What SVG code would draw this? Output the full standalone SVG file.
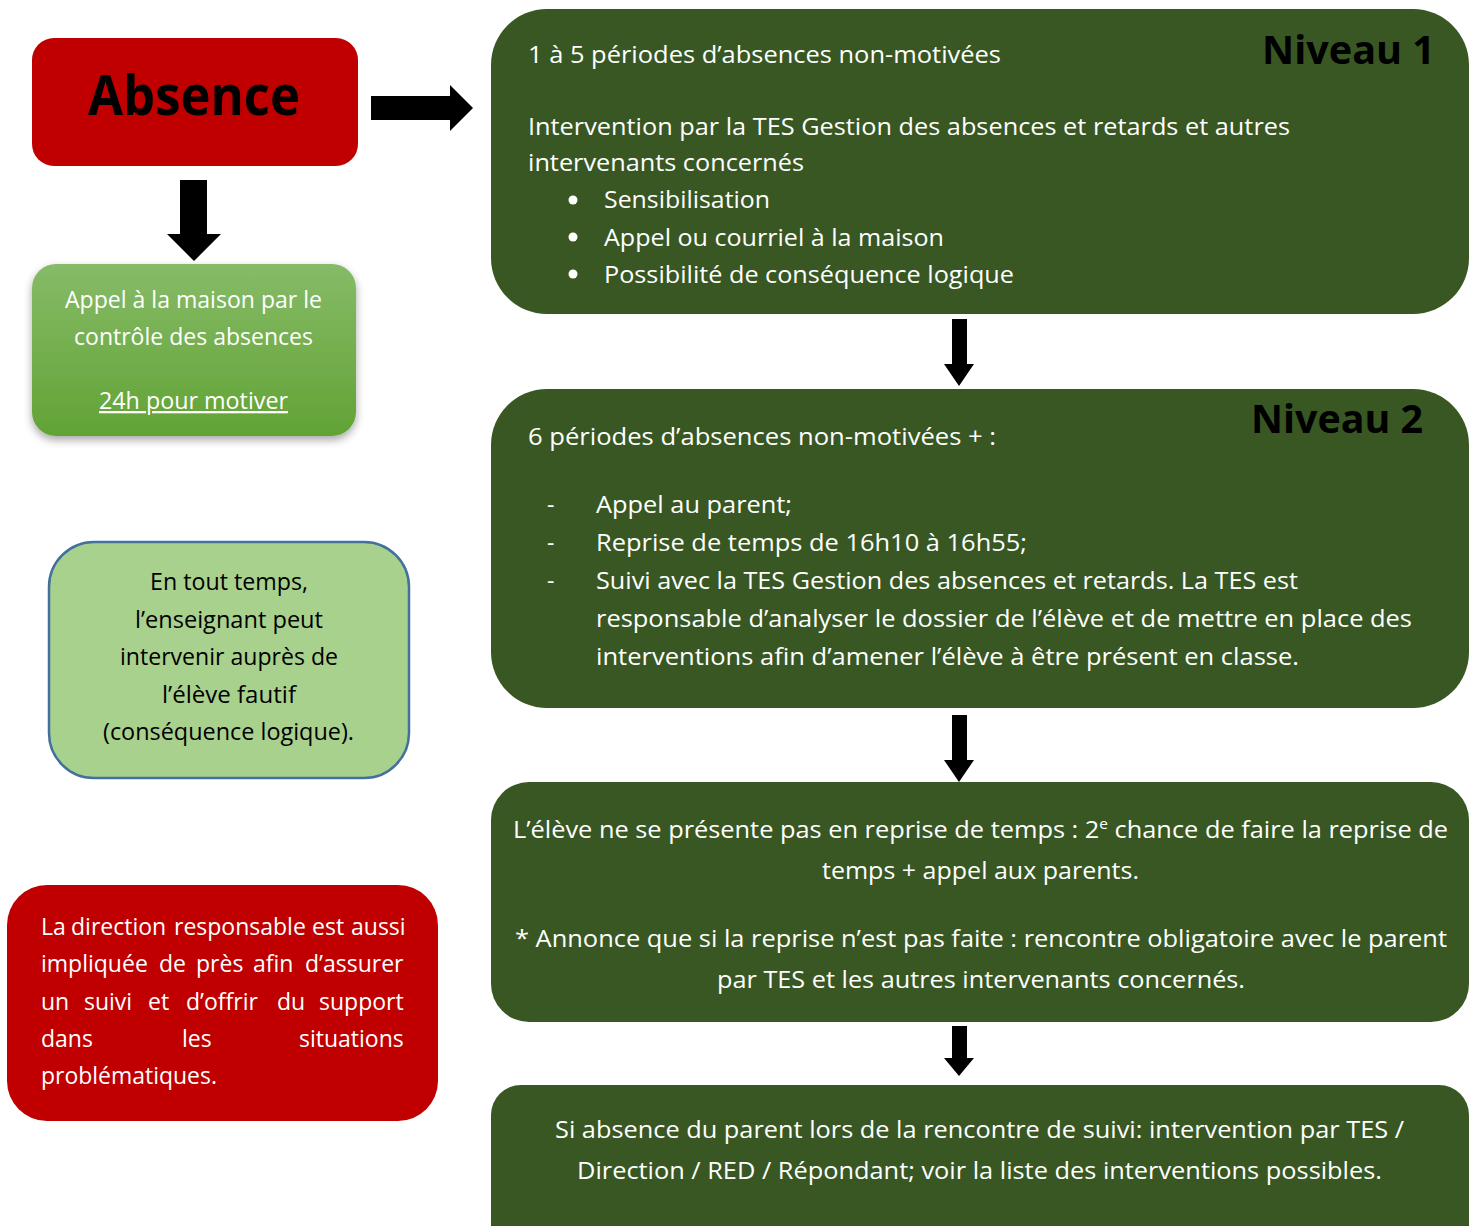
<svg xmlns="http://www.w3.org/2000/svg" width="1473" height="1226" viewBox="0 0 1473 1226">
<defs>
<linearGradient id="gg" x1="0" y1="0" x2="0" y2="1">
<stop offset="0" stop-color="#86BB68"/>
<stop offset="1" stop-color="#62A335"/>
</linearGradient>
<filter id="sh" x="-10%" y="-10%" width="120%" height="130%">
<feDropShadow dx="0" dy="4" stdDeviation="4" flood-color="#000" flood-opacity="0.35"/>
</filter>
</defs>
<style>
text{font-family:"Open Sans","Noto Sans",sans-serif;}
.w{fill:#fff;font-size:23px;}
.b{fill:#000;font-size:23px;}
.nv{fill:#000;font-size:40px;font-weight:bold;}
.dk{fill:#385723;}
.arr{fill:#000;}
</style>
<rect width="1473" height="1226" fill="#fff"/>

<g id="connectors">
<polygon class="arr" points="371,96 450,96 450,85 473,108 450,131 450,120 371,120"/>
<polygon class="arr" points="180,180 207,180 207,234 221,234 194,261 167,234 180,234"/>
<polygon class="arr" points="952,319 967,319 967,364 974,364 959,386 944,364 952,364"/>
<polygon class="arr" points="952,715 967,715 967,760 974,760 959,782 944,760 952,760"/>
<polygon class="arr" points="952,1026 967,1026 967,1058 974,1058 959,1076 944,1058 952,1058"/>
</g>

<g id="absence">
<rect x="32" y="38" width="326" height="128" rx="22" fill="#C00000"/>
<text x="88" y="115" font-size="55" font-weight="bold" fill="#000" textLength="212" lengthAdjust="spacingAndGlyphs">Absence</text>
</g>

<g id="appel">
<rect x="32" y="264" width="324" height="172" rx="24" fill="url(#gg)" filter="url(#sh)"/>
<text class="w" x="65" y="308" textLength="257" lengthAdjust="spacingAndGlyphs">Appel à la maison par le</text>
<text class="w" x="74" y="345" textLength="239" lengthAdjust="spacingAndGlyphs">contrôle des absences</text>
<text class="w" x="99" y="409" textLength="189" lengthAdjust="spacingAndGlyphs" text-decoration="underline">24h pour motiver</text>
</g>

<g id="enseignant">
<rect x="49" y="542" width="360" height="236" rx="45" fill="#A9D18E" stroke="#41719C" stroke-width="2.5"/>
<text class="b" x="150" y="590" textLength="158" lengthAdjust="spacingAndGlyphs">En tout temps,</text>
<text class="b" x="135" y="628" textLength="188" lengthAdjust="spacingAndGlyphs">l’enseignant peut</text>
<text class="b" x="120" y="665" textLength="218" lengthAdjust="spacingAndGlyphs">intervenir auprès de</text>
<text class="b" x="162" y="703" textLength="134" lengthAdjust="spacingAndGlyphs">l’élève fautif</text>
<text class="b" x="103" y="740" textLength="251" lengthAdjust="spacingAndGlyphs">(conséquence logique).</text>
</g>

<g id="direction">
<rect x="7" y="885" width="431" height="236" rx="40" fill="#C00000"/>
<text class="w" y="935"><tspan x="41">La</tspan><tspan x="71">direction</tspan><tspan x="174">responsable</tspan><tspan x="312">est</tspan><tspan x="351">aussi</tspan></text>
<text class="w" y="972"><tspan x="41">impliquée</tspan><tspan x="159">de</tspan><tspan x="196">près</tspan><tspan x="253">afin</tspan><tspan x="305">d’assurer</tspan></text>
<text class="w" y="1010"><tspan x="41">un</tspan><tspan x="84">suivi</tspan><tspan x="148">et</tspan><tspan x="186">d’offrir</tspan><tspan x="277">du</tspan><tspan x="319">support</tspan></text>
<text class="w" y="1047"><tspan x="41">dans</tspan><tspan x="182">les</tspan><tspan x="299">situations</tspan></text>
<text class="w" x="41" y="1084" textLength="176" lengthAdjust="spacingAndGlyphs">problématiques.</text>
</g>

<g id="niveau1">
<rect class="dk" x="491" y="9" width="978" height="305" rx="56"/>
<text class="w" x="528" y="63" textLength="473" lengthAdjust="spacingAndGlyphs">1 à 5 périodes d’absences non-motivées</text>
<text class="nv" x="1262" y="64" textLength="173" lengthAdjust="spacingAndGlyphs">Niveau 1</text>
<text class="w" x="528" y="135" textLength="762" lengthAdjust="spacingAndGlyphs">Intervention par la TES Gestion des absences et retards et autres</text>
<text class="w" x="528" y="171" textLength="276" lengthAdjust="spacingAndGlyphs">intervenants concernés</text>
<circle cx="573" cy="200" r="4.5" fill="#fff"/>
<circle cx="573" cy="237" r="4.5" fill="#fff"/>
<circle cx="573" cy="274" r="4.5" fill="#fff"/>
<text class="w" x="604" y="208" textLength="166" lengthAdjust="spacingAndGlyphs">Sensibilisation</text>
<text class="w" x="604" y="246" textLength="340" lengthAdjust="spacingAndGlyphs">Appel ou courriel à la maison</text>
<text class="w" x="604" y="283" textLength="410" lengthAdjust="spacingAndGlyphs">Possibilité de conséquence logique</text>
</g>

<g id="niveau2">
<rect class="dk" x="491" y="389" width="978" height="319" rx="56"/>
<text class="w" x="528" y="445" textLength="468" lengthAdjust="spacingAndGlyphs">6 périodes d’absences non-motivées + :</text>
<text class="nv" x="1251" y="433" textLength="172" lengthAdjust="spacingAndGlyphs">Niveau 2</text>
<text class="w" x="547" y="513">-</text>
<text class="w" x="547" y="551">-</text>
<text class="w" x="547" y="589">-</text>
<text class="w" x="596" y="513" textLength="196" lengthAdjust="spacingAndGlyphs">Appel au parent;</text>
<text class="w" x="596" y="551" textLength="431" lengthAdjust="spacingAndGlyphs">Reprise de temps de 16h10 à 16h55;</text>
<text class="w" x="596" y="589" textLength="702" lengthAdjust="spacingAndGlyphs">Suivi avec la TES Gestion des absences et retards. La TES est</text>
<text class="w" x="596" y="627" textLength="816" lengthAdjust="spacingAndGlyphs">responsable d’analyser le dossier de l’élève et de mettre en place des</text>
<text class="w" x="596" y="665" textLength="703" lengthAdjust="spacingAndGlyphs">interventions afin d’amener l’élève à être présent en classe.</text>
</g>

<g id="reprise">
<rect class="dk" x="491" y="782" width="978" height="240" rx="38"/>
<text class="w" x="513" y="838" textLength="935" lengthAdjust="spacingAndGlyphs">L’élève ne se présente pas en reprise de temps : 2<tspan font-size="14" dy="-9">e</tspan><tspan dy="9"> chance de faire la reprise de</tspan></text>
<text class="w" x="822" y="879" textLength="317" lengthAdjust="spacingAndGlyphs">temps + appel aux parents.</text>
<text class="w" x="515" y="947" textLength="932" lengthAdjust="spacingAndGlyphs">* Annonce que si la reprise n’est pas faite : rencontre obligatoire avec le parent</text>
<text class="w" x="717" y="988" textLength="528" lengthAdjust="spacingAndGlyphs">par TES et les autres intervenants concernés.</text>
</g>

<g id="suivi">
<rect class="dk" x="491" y="1085" width="978" height="170" rx="30"/>
<text class="w" x="555" y="1138" textLength="849" lengthAdjust="spacingAndGlyphs">Si absence du parent lors de la rencontre de suivi: intervention par TES /</text>
<text class="w" x="577" y="1179" textLength="805" lengthAdjust="spacingAndGlyphs">Direction / RED / Répondant; voir la liste des interventions possibles.</text>
</g>
</svg>
